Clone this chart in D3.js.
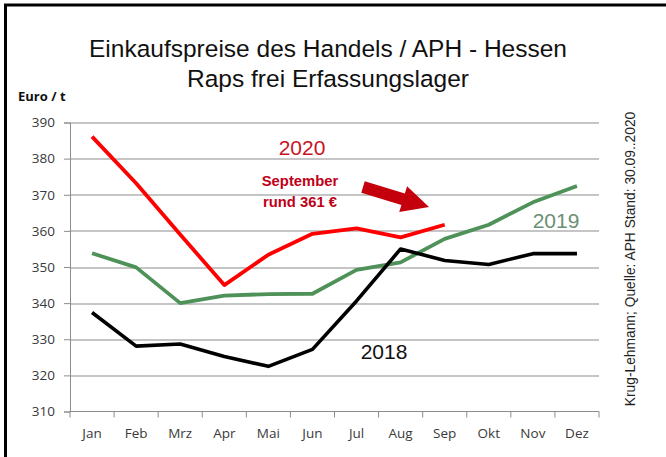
<!DOCTYPE html>
<html>
<head>
<meta charset="utf-8">
<script src="https://cdn.jsdelivr.net/npm/d3@7"></script>
<style>
  body { margin: 0; background: #fff; }
  svg { display: block; }
  .tick text { font-family: "Open Sans", sans-serif; font-size: 13.5px; fill: #3a3a3a; }
</style>
</head>
<body>
<div id="chart"></div>
<script>
var months = ["Jan", "Feb", "Mrz", "Apr", "Mai", "Jun", "Jul", "Aug", "Sep", "Okt", "Nov", "Dez"];
var yTicks = [310, 320, 330, 340, 350, 360, 370, 380, 390];

var prices2018 = [337.4, 328.1, 328.7, 325.2, 322.5, 327.2, 340.6, 355.0, 351.8, 350.7, 353.7, 353.7];
var prices2019 = [353.8, 349.9, 340.0, 342.1, 342.5, 342.6, 349.2, 351.3, 357.8, 361.7, 367.9, 372.4];
var prices2020 = [386.1, 373.2, 359.0, 345.0, 353.4, 359.2, 360.7, 358.2, 361.7];

var svg = d3.select("#chart")
    .append("svg")
    .attr("width", 666)
    .attr("height", 457);

var margin = {top: 122.5, right: 67, bottom: 45.5, left: 70},
    width = 666 - margin.left - margin.right,
    height = 457 - margin.top - margin.bottom;

// frame
svg.append("path")
    .attr("d", "M5.5,457 V5 H666")
    .attr("fill", "none")
    .attr("stroke", "#000")
    .attr("stroke-width", 3);

// titles
svg.append("text")
    .attr("x", 328).attr("y", 57)
    .attr("text-anchor", "middle")
    .style("font-family", "Liberation Sans, Arial, sans-serif")
    .style("font-size", "24.5px")
    .attr("fill", "#111")
    .text("Einkaufspreise des Handels / APH - Hessen");

svg.append("text")
    .attr("x", 328).attr("y", 87)
    .attr("text-anchor", "middle")
    .style("font-family", "Liberation Sans, Arial, sans-serif")
    .style("font-size", "24.5px")
    .attr("fill", "#111")
    .text("Raps frei Erfassungslager");

svg.append("text")
    .attr("x", 18).attr("y", 101)
    .style("font-family", "Open Sans, sans-serif")
    .style("font-size", "13px")
    .style("font-weight", "bold")
    .attr("fill", "#111")
    .text("Euro / t");

// source, rotated
svg.append("text")
    .attr("transform", "translate(635,259) rotate(-90)")
    .attr("text-anchor", "middle")
    .style("font-family", "Liberation Sans, Arial, sans-serif")
    .style("font-size", "13.8px")
    .attr("fill", "#222")
    .text("Krug-Lehmann; Quelle: APH Stand: 30.09..2020");

var g = svg.append("g")
    .attr("transform", "translate(" + margin.left + "," + margin.top + ")");

var x = d3.scaleBand().domain(months).range([0, width]);
var y = d3.scaleLinear().domain([310, 390]).range([height, 0]);

// gridlines
g.append("g")
    .selectAll("line")
    .data(yTicks.slice(1))
    .enter().append("line")
    .attr("x1", 0).attr("x2", width)
    .attr("y1", function(d) { return Math.round(y(d)) + 0.5; })
    .attr("y2", function(d) { return Math.round(y(d)) + 0.5; })
    .attr("stroke", "#8c8c8c")
    .attr("stroke-width", 1.2);

var yAxis = d3.axisLeft(y).tickValues(yTicks).tickSize(6).tickPadding(9);
var yg = g.append("g").call(yAxis);
yg.select(".domain").attr("stroke", "#8c8c8c");
yg.selectAll(".tick line").attr("stroke", "#8c8c8c");

// x axis: ticks between categories
var xg = g.append("g").attr("transform", "translate(0," + height + ")");
xg.append("line")
    .attr("x1", 0).attr("x2", width)
    .attr("stroke", "#8c8c8c").attr("stroke-width", 1.2);
xg.selectAll(".sep")
    .data(months.concat(["end"]))
    .enter().append("line")
    .attr("x1", function(d, i) { return i * x.step(); })
    .attr("x2", function(d, i) { return i * x.step(); })
    .attr("y1", 0).attr("y2", 6)
    .attr("stroke", "#8c8c8c");
xg.selectAll(".lbl")
    .data(months)
    .enter().append("text")
    .attr("x", function(d) { return x(d) + x.bandwidth() / 2; })
    .attr("y", 26)
    .attr("text-anchor", "middle")
    .style("font-family", "Open Sans, sans-serif")
    .style("font-size", "13.5px")
    .attr("fill", "#3a3a3a")
    .text(function(d) { return d; });

var line = d3.line()
    .x(function(d, i) { return x(months[i]) + x.bandwidth() / 2; })
    .y(function(d) { return y(d); });

var series = [
    {data: prices2019, color: "#4f9259", w: 3.8},
    {data: prices2018, color: "#000000", w: 3.6},
    {data: prices2020, color: "#ff0000", w: 3.8}
];

series.forEach(function(s) {
    g.append("path")
        .datum(s.data)
        .attr("fill", "none")
        .attr("stroke", s.color)
        .attr("stroke-width", s.w)
        .attr("stroke-linejoin", "round")
        .attr("d", line);
});

// labels
function label(txt, xx, yy, size, color, weight) {
    svg.append("text")
        .attr("x", xx).attr("y", yy)
        .attr("text-anchor", "middle")
        .style("font-family", "Liberation Sans, Arial, sans-serif")
        .style("font-size", size + "px")
        .style("font-weight", weight || "normal")
        .attr("fill", color)
        .text(txt);
}
label("2020", 302, 155, 21, "#c8141e");
label("2019", 556, 228, 21, "#6b8f74");
label("2018", 384, 359, 21, "#111");
label("September", 300, 186, 14.8, "#c00018", "bold");
label("rund 361 €", 300, 207, 14.8, "#c00018", "bold");

// arrow
var a0 = [363, 187], a1 = [429, 207];
var ang = Math.atan2(a1[1] - a0[1], a1[0] - a0[0]);
var len = Math.hypot(a1[0] - a0[0], a1[1] - a0[1]);
var headLen = 27, shaftW = 6, headW = 13.5;
var pts = [[0, -shaftW], [len - headLen, -shaftW], [len - headLen, -headW], [len, 0],
           [len - headLen, headW], [len - headLen, shaftW], [0, shaftW]];
svg.append("path")
    .attr("transform", "translate(" + a0[0] + "," + a0[1] + ") rotate(" + (ang * 180 / Math.PI) + ")")
    .attr("d", "M" + pts.map(function(p) { return p.join(","); }).join("L") + "Z")
    .attr("fill", "#c4000c");
</script>
</body>
</html>
